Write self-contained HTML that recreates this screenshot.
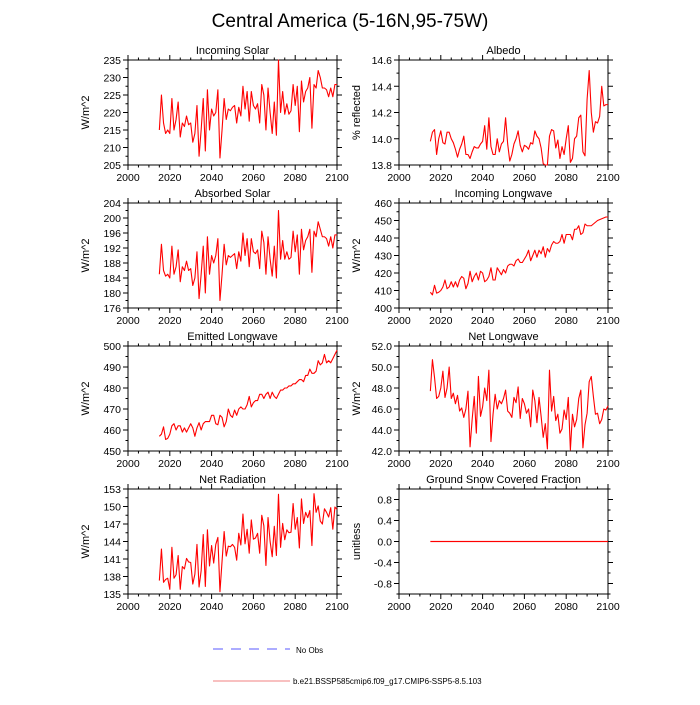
<!DOCTYPE html>
<html><head><meta charset="utf-8"><style>
body{margin:0;background:#fff;}
svg text{font-family:"Liberation Sans",sans-serif;fill:#000;}
</style></head><body>
<svg id="c" width="700" height="700" xmlns="http://www.w3.org/2000/svg">
<text x="350" y="27" font-size="19" text-anchor="middle">Central America (5-16N,95-75W)</text>
<g id="panels"></g>
<line x1="213" y1="649" x2="290" y2="649" stroke="#5a5aff" stroke-width="1" stroke-dasharray="10,8"/>
<text x="296" y="653" font-size="8">No Obs</text>
<line x1="213" y1="681" x2="290" y2="681" stroke="#f08080" stroke-width="1"/>
<text x="293" y="684" font-size="8">b.e21.BSSP585cmip6.f09_g17.CMIP6-SSP5-8.5.103</text>
</svg>
<script>
const incomingSolar=[215,225,217,214,215,214,224,215,218,223,213,217,216,219,216.5,217,211.5,214,222,207.5,215,224,209,226.5,215,221,219,220,226.5,207,215,224,218,221,220.5,221.5,222,217,221.5,219,227.5,221,226,217.5,226,222,221,222.5,217,228,225,215,227,220,214,223,213.5,235,220,226,219.5,222.5,219.5,220.5,228,222,227.5,214.5,229,223,226,227,230,215.5,228,227,232,230,227,227,226.5,224.5,227,224.5,228,228];
const albedo=[13.98,14.05,14.07,13.88,14.0,14.06,13.97,13.96,14.05,14.05,14.0,13.97,13.92,13.86,13.92,13.96,14.02,13.88,13.88,13.85,13.9,13.94,13.93,13.93,13.96,13.98,14.1,13.92,14.16,13.94,13.88,13.88,14.0,13.9,13.96,13.98,14.16,13.96,13.83,13.88,13.96,14.0,14.06,13.95,13.9,13.95,13.94,13.92,13.97,13.96,14.06,14.02,14.0,13.93,13.81,13.8,13.8,14.02,14.07,14.06,13.93,13.99,13.85,13.94,13.88,14.0,14.1,13.82,13.85,14.0,14.02,14.16,14.18,13.9,13.87,14.3,14.52,14.2,14.05,14.13,14.12,14.17,14.4,14.25,14.26,14.26];
const absorbedSolar=[185,193,186,184.5,185,184,192.5,185,187,191.5,183,187,186,188.5,186,186.5,182,184,191,178.5,185,192.5,180,195,185,190,188,190,194.5,178,185,193,187.5,190,189.5,190,190.5,186.5,191,188.5,196,190,194.5,187,194.5,191,190.5,191.5,186.5,196.5,193.5,185,195,189,184.5,192.5,184,202,189,194,189,191,189,189.5,196.5,191,195.5,185,197,191.5,194,195,197,185.5,196.5,195,199,197,195,195,194.5,192.5,195,192,195.5,195.5];
const incomingLongwave=[409,407.5,413,408.5,409,410,412,416,411,412,415,412,415,412,416,418,417,411,414,421,415,418,420,416,421,420,415,416,418,423,416,416,423,421,419,422,420,424,425,425,424,427,428,426,426,428,430,433,427,430,433,429,433,431,435,429,434,432,436,438,437,437,438,442,437,442,442,442,439,445,445,447,442,443,448,447,447,447,448,449,450,450.5,451,451.5,452,452];
const emittedLongwave=[457,458,461.5,455.5,456,458,462,463,460,462,462,459,461,459,461,463,461,457,461,463.5,460,463,464,464,464,467,467,463,462.5,467,466,461.5,464,470,467,466,469.5,467,470,471,470,470,472,476,471,473,474,474,477,477,475,477,478,475,478,476,475,477,479,479,480,480,481,481,482,482,483,484,484,483,486,486,489,487,487,488,493,491,492,496,492,493,492,494,496,498];
const netLongwave=[47.7,50.7,49,47,47.2,48,49.6,47.1,48,50,47,47.5,46.5,47.3,45.8,46.1,45.2,46,47.7,42.4,45,47.2,43.7,49.1,45.3,46.2,48,46.8,49.7,42.9,45.5,47.4,46,46.8,46.5,47,47.8,45.8,45.6,45.2,47.1,46.6,48.1,45.1,47,46.5,45.6,46,44.3,47.8,46.8,44.7,47.1,45.3,43.3,44.6,42.2,49.7,45.8,47.2,44.9,45.5,43.7,44.1,45.9,45,47.1,42.1,45.5,44.3,45,47,47.8,42.3,44.5,45.6,48.6,49.1,47.2,45.5,45.6,44.6,45,46,45.9,46.3];
const netRadiation=[137.3,142.7,137,137.5,137.7,135.8,143,137.7,138.3,141.6,135.8,139.7,139.3,141.1,140.5,140.4,136.7,138.4,143.5,136.2,139,145.2,136.3,146,139.8,143.3,140.3,143.5,144.7,135.4,140.6,145.7,141.5,143.2,143.1,143.5,143,140.8,145.4,143.4,148.7,143.6,146.1,142,147.7,144.4,144.6,145.4,142,148.5,146.7,139.9,148.1,144,141.4,146.6,141.6,152.1,143,147.1,144.3,146,145.5,145.6,150.5,146.1,148.1,142.9,151.3,147.1,149,148.1,149.3,143.3,152.2,149,150.1,147.5,147,149.6,149,148.2,149.8,146.1,149.9,149.5];
const snowFraction=[0,0];
const snowYears=[2015,2100];
const xTicks=[2000,2020,2040,2060,2080,2100];
const startYear=2015;

const panels=[
 {t:'Incoming Solar',yl:'W/m^2',d:incomingSolar,min:205,max:235,ticks:[205,210,215,220,225,230,235],dec:0,minor:2.5,c:0,r:0},
 {t:'Albedo',yl:'% reflected',d:albedo,min:13.8,max:14.6,ticks:[13.8,14.0,14.2,14.4,14.6],dec:1,minor:0.1,c:1,r:0},
 {t:'Absorbed Solar',yl:'W/m^2',d:absorbedSolar,min:176,max:204,ticks:[176,180,184,188,192,196,200,204],dec:0,minor:2,c:0,r:1},
 {t:'Incoming Longwave',yl:'W/m^2',d:incomingLongwave,min:400,max:460,ticks:[400,410,420,430,440,450,460],dec:0,minor:5,c:1,r:1},
 {t:'Emitted Longwave',yl:'W/m^2',d:emittedLongwave,min:450,max:500,ticks:[450,460,470,480,490,500],dec:0,minor:5,c:0,r:2},
 {t:'Net Longwave',yl:'W/m^2',d:netLongwave,min:42,max:52,ticks:[42,44,46,48,50,52],dec:1,minor:1,c:1,r:2},
 {t:'Net Radiation',yl:'W/m^2',d:netRadiation,min:135,max:153,ticks:[135,138,141,144,147,150,153],dec:0,minor:1.5,c:0,r:3},
 {t:'Ground Snow Covered Fraction',yl:'unitless',d:snowFraction,yrs:snowYears,min:-1,max:1,ticks:[-0.8,-0.4,0,0.4,0.8],dec:1,minor:0.2,c:1,r:3}
];
const NS='http://www.w3.org/2000/svg';
const root=document.getElementById('panels');
function mk(tag,attrs,parent){const e=document.createElementNS(NS,tag);for(const k in attrs)e.setAttribute(k,attrs[k]);parent.appendChild(e);return e;}
const colX=[128,399],rowY=[60,203,346,489],W=209,H=105;
panels.forEach((p,i)=>{
 const g=mk('g',{},root);
 
 
 const x0=colX[p.c],y0=rowY[p.r];
 const sx=v=>x0+(v-2000)/100*W;
 const sy=v=>y0+H-(v-p.min)/(p.max-p.min)*H;
 let pth='';
 for(let yr=2000;yr<=2100;yr+=5){const x=sx(yr);const L=(yr%20==0)?5:2.5;pth+=`M${x},${y0+H}v${L}M${x},${y0}v${-L}`;}
 const n=Math.round((p.max-p.min)/p.minor);
 for(let k=0;k<=n;k++){const v=p.min+k*p.minor;const y=sy(v);const maj=p.ticks.some(t=>Math.abs(t-v)<1e-6);const L=maj?5:2.5;pth+=`M${x0},${y}h${-L}M${x0+W},${y}h${L}`;}
 const tk=mk('path',{d:pth,stroke:'#000','stroke-width':1,fill:'none'},g);
 
 
 const fr=mk('rect',{x:x0,y:y0,width:W,height:H,fill:'none',stroke:'#000','stroke-width':1},g);
 
 
 const tt=mk('text',{x:x0+W/2,y:y0-6,'font-size':11,'text-anchor':'middle'},g);tt.textContent=p.t;
 
 
 xTicks.forEach(v=>{const t=mk('text',{x:sx(v),y:y0+H+16,'font-size':10.5,'text-anchor':'middle'},g);t.textContent=v;
  
  });
 p.ticks.forEach(v=>{const t=mk('text',{x:x0-7,y:sy(v)+4,'font-size':10.5,'text-anchor':'end'},g);t.textContent=v.toFixed(p.dec);
  
  });
 const yl=mk('text',{x:0,y:0,'font-size':11,'text-anchor':'middle',transform:`translate(${x0-39},${y0+H/2}) rotate(-90)`},g);yl.textContent=p.yl;
 
 
 if(p.yrs){
  for(let k=0;k<p.d.length-1;k++){
   const xa=sx(p.yrs[k]),xb=sx(p.yrs[k+1]),ya=sy(p.d[k]),yb=sy(p.d[k+1]);
   const sg=mk('rect',{x:xa,y:Math.min(ya,yb)-0.6,width:xb-xa,height:Math.abs(yb-ya)+1.2,fill:'#ff0000'},g);
   
   
  }
 } else {
  const pts=p.d.map((v,k)=>`${sx(startYear+k).toFixed(2)},${sy(v).toFixed(2)}`).join(' ');
  const ln=mk('polyline',{points:pts,fill:'none',stroke:'#ff0000','stroke-width':1.1,'stroke-linejoin':'round'},g);
  
  
 }
});
</script>
</body></html>
